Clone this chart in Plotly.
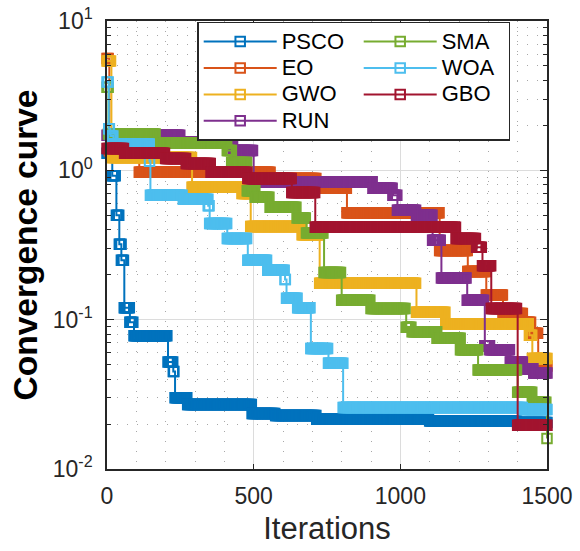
import numpy as np
import plotly.graph_objects as go

# ---------------- data (best-so-far values) ----------------
series_names = ["PSCO", "EO", "GWO", "RUN", "SMA", "WOA", "GBO"]
series_colors = ["#0072BD", "#D95319", "#EDB120", "#7E2F8E", "#77AC30", "#4DBEEE", "#A2142F"]

# iteration at which each new best value appears, and that value
psco_iter = [0, 18, 32, 42, 49, 59, 78, 92, 208, 226, 232, 275, 495, 575, 715, 1100, 1400]
psco_val = [1.3, 0.92, 0.50, 0.32, 0.25, 0.12, 0.096, 0.078, 0.052, 0.045, 0.030, 0.027,
            0.0235, 0.0228, 0.0215, 0.021, 0.0205]

eo_iter = [0, 8, 110, 560, 715, 818, 1134, 1230, 1293, 1350, 1420, 1445, 1470]
eo_val = [5.6, 1.35, 0.97, 0.88, 0.76, 0.52, 0.29, 0.21, 0.146, 0.11, 0.096, 0.081, 0.049]

gwo_iter = [0, 15, 290, 460, 490, 665, 725, 1055, 1155, 1440, 1450]
gwo_val = [5.4, 1.22, 0.77, 0.70, 0.42, 0.37, 0.175, 0.112, 0.094, 0.0785, 0.055]

run_iter = [0, 250, 430, 500, 907, 975, 990, 1055, 1110, 1140, 1228, 1288, 1305, 1375, 1420, 1455]
run_val = [1.72, 1.55, 1.36, 0.84, 0.76, 0.68, 0.54, 0.50, 0.34, 0.19, 0.135, 0.067, 0.063,
           0.052, 0.047, 0.044]

sma_iter = [0, 5, 165, 410, 425, 478, 505, 556, 648, 680, 740, 800, 900, 1020, 1040, 1125,
            1205, 1265, 1400, 1450, 1500]
sma_val = [3.6, 1.75, 1.52, 1.36, 1.13, 0.73, 0.66, 0.565, 0.48, 0.38, 0.207, 0.135, 0.119,
           0.089, 0.083, 0.075, 0.063, 0.046, 0.0326, 0.028, 0.016]

woa_iter = [0, 6, 12, 22, 145, 148, 260, 345, 350, 410, 480, 548, 607, 612, 650, 695, 755, 805, 1420]
woa_val = [3.9, 1.9, 1.7, 1.5, 1.15, 0.68, 0.64, 0.58, 0.44, 0.35, 0.25, 0.214, 0.186, 0.139,
           0.12, 0.064, 0.051, 0.0258, 0.025]

gbo_iter = [0, 60, 200, 270, 355, 480, 630, 710, 1190, 1260, 1280, 1310, 1400]
gbo_val = [1.40, 1.30, 1.20, 1.11, 0.97, 0.88, 0.71, 0.415, 0.35, 0.305, 0.23, 0.119, 0.0196]

series_iters = [psco_iter, eo_iter, gwo_iter, run_iter, sma_iter, woa_iter, gbo_iter]
series_vals = [psco_val, eo_val, gwo_val, run_val, sma_val, woa_val, gbo_val]

# legend ranks: legend filled row by row so that columns read PSCO/EO/GWO/RUN and SMA/WOA/GBO
legend_rank = {"PSCO": 1, "SMA": 2, "EO": 3, "WOA": 4, "GWO": 5, "GBO": 6, "RUN": 7}
second_column = {"SMA", "WOA", "GBO"}

x_ticks = [0, 500, 1000, 1500]
x_minor_ticks = [100, 200, 300, 400, 600, 700, 800, 900, 1100, 1200, 1300, 1400]
y_tick_vals = [10, 1, 0.1, 0.01]
y_tick_text = ["10<sup>1</sup>", "10<sup>0</sup>", "10<sup>-1</sup>", "10<sup>-2</sup>"]
y_minor_ticks = [m * d for d in (0.01, 0.1, 1) for m in range(2, 10)]

MAX_ITER = 1500
SAMPLE = 4  # marker every SAMPLE iterations


def best_so_far(bp_iter, bp_val):
    bp_iter = np.asarray(bp_iter)
    bp_val = np.asarray(bp_val, dtype=float)
    x = np.union1d(np.arange(0, MAX_ITER + 1, SAMPLE), bp_iter)
    x = np.union1d(x, [MAX_ITER])
    idx = np.searchsorted(bp_iter, x, side="right") - 1
    return x, bp_val[idx]


FONT = "Liberation Sans, Arial, sans-serif"
DARK = "#262626"

fig = go.Figure()
for name, color, its, vals in zip(series_names, series_colors, series_iters, series_vals):
    x, y = best_so_far(its, vals)
    fig.add_trace(go.Scatter(
        x=x, y=y, name=f'<span style="font-size:22px">{name}</span>', mode="lines+markers",
        line=dict(color=color, width=2, shape="hv"),
        marker=dict(symbol="square-open", size=9.5, color=color, line=dict(width=2, color=color)),
        cliponaxis=False,
        legendrank=legend_rank[name],
        legendwidth=62 if name in second_column else 72,
    ))

fig.update_layout(
    width=580, height=551,
    margin=dict(l=107, r=33, t=21, b=82),
    paper_bgcolor="white", plot_bgcolor="white",
    font=dict(family=FONT, color=DARK, size=23),
    showlegend=True,
    legend=dict(
        orientation="h",
        x=0.205, y=0.998, xanchor="left", yanchor="top",
        bgcolor="white", bordercolor=DARK, borderwidth=1.5,
        font=dict(family=FONT, size=18, color="black"),
        itemwidth=73, entrywidth=74, entrywidthmode="pixels",
        traceorder="normal",
    ),
)

fig.update_xaxes(
    range=[0, MAX_ITER], tickvals=x_ticks, automargin=False,
    ticks="inside", ticklen=5, tickwidth=1, tickcolor=DARK,
    showline=True, linecolor=DARK, linewidth=1.5, mirror="ticks",
    showgrid=True, gridcolor="#dcdcdc", gridwidth=1,
    zeroline=False,
    tickfont=dict(size=23, family=FONT, color=DARK),
    ticklabelstandoff=6,
    minor=dict(tickmode="array", tickvals=x_minor_ticks, ticks="", showgrid=True,
               gridcolor="#a8a8a8", griddash="1px,9px", gridwidth=1),
    title=dict(text="Iterations", font=dict(size=31, family=FONT, color=DARK), standoff=9),
)

fig.update_yaxes(
    type="log", range=[-2, 1], automargin=False,
    tickvals=y_tick_vals, ticktext=y_tick_text,
    ticks="inside", ticklen=7, tickwidth=1, tickcolor=DARK,
    showline=True, linecolor=DARK, linewidth=1.5, mirror="ticks",
    showgrid=True, gridcolor="#dcdcdc", gridwidth=1,
    zeroline=False,
    tickfont=dict(size=23, family=FONT, color=DARK),
    ticklabelstandoff=8,
    minor=dict(tickmode="array", tickvals=y_minor_ticks, ticks="inside", ticklen=4,
               tickcolor=DARK, showgrid=True,
               gridcolor="#a8a8a8", griddash="1px,9px", gridwidth=1),
    title=dict(text="<b>Convergence curve</b>", font=dict(size=33.5, family=FONT, color="black"),
               standoff=5),
)

fig.write_html("out.html")
